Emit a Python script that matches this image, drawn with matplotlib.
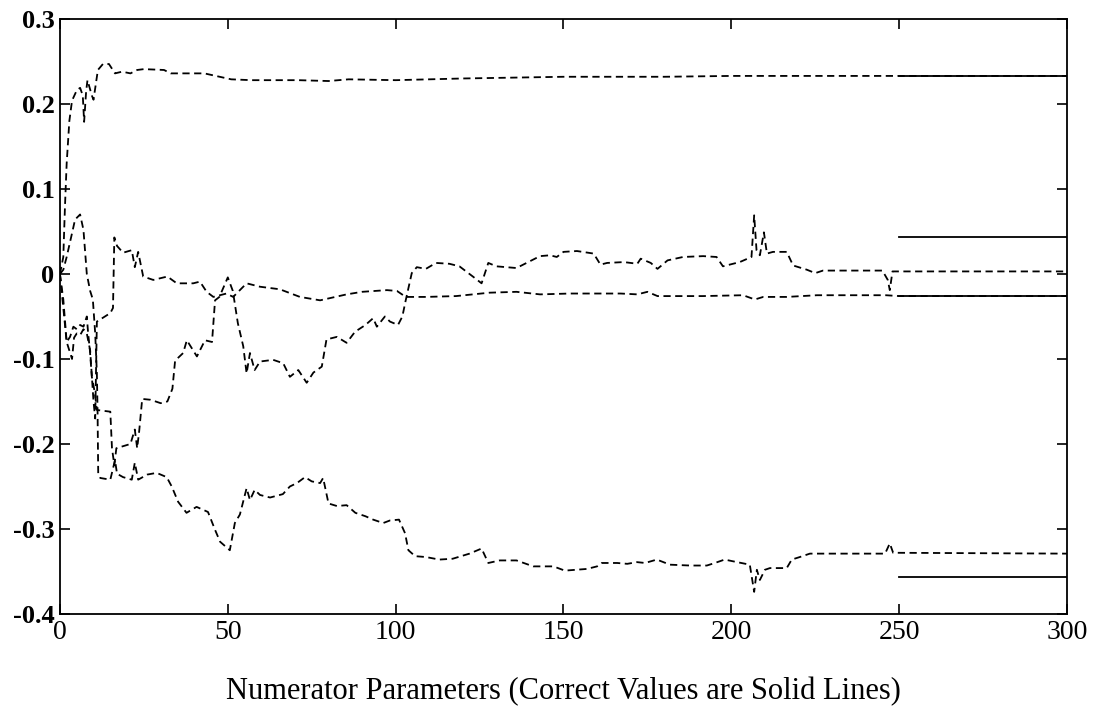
import numpy as np
import matplotlib
matplotlib.use("Agg")
import matplotlib.pyplot as plt

plt.rcParams['font.family'] = ['Liberation Serif', 'DejaVu Serif']

# estimated numerator parameters vs. iteration, (iteration, value) pairs
est_a = [(0, 0), (1, 0.02), (1.5, 0.08), (2, 0.13), (2.8, 0.18), (3.6, 0.204), (5, 0.216),
         (6, 0.219), (6.8, 0.21), (7.2, 0.179), (7.8, 0.215), (8.2, 0.228), (9.5, 0.21),
         (10, 0.205), (11.3, 0.24), (12.8, 0.247), (14.6, 0.247), (16.4, 0.236), (18.5, 0.238),
         (21, 0.236), (23, 0.24), (25, 0.241), (31, 0.24), (33, 0.236), (43, 0.236), (51, 0.229),
         (57, 0.228), (71, 0.228), (80, 0.227), (86, 0.229), (100, 0.228), (120, 0.23),
         (150, 0.232), (180, 0.232), (200, 0.233), (250, 0.233), (300, 0.233)]

est_b = [(0, 0), (1, -0.04), (2, -0.08), (3.6, -0.1), (4.2, -0.075), (5, -0.07), (6, -0.072),
         (7, -0.065), (8, -0.07), (9, -0.09), (10, -0.15), (10.5, -0.17), (11, -0.056),
         (15, -0.046), (15.8, -0.04), (16.2, 0.043), (17, 0.033), (18.8, 0.025), (21.4, 0.028),
         (22.3, 0.008), (23.3, 0.026), (24.8, -0.003), (27.8, -0.007), (32, -0.003),
         (34.8, -0.011), (39.7, -0.011), (41.7, -0.009), (43.7, -0.021), (45.7, -0.027),
         (49.6, -0.023), (51.6, -0.027), (55.6, -0.011), (59.6, -0.015), (65.5, -0.018),
         (71.5, -0.027), (77.5, -0.031), (85.4, -0.024), (90, -0.021), (97.4, -0.019),
         (100.4, -0.02), (103, -0.027), (109, -0.027), (118, -0.026), (128, -0.022),
         (136, -0.021), (143, -0.024), (152, -0.023), (167, -0.023), (172, -0.024),
         (175, -0.021), (178, -0.026), (191.5, -0.026), (203.5, -0.025), (207, -0.03),
         (209.5, -0.027), (216.5, -0.027), (225.5, -0.025), (246, -0.025), (250, -0.026),
         (300, -0.026)]

est_c = [(0, 0), (1, -0.03), (2, -0.08), (3, -0.074), (4, -0.062), (5, -0.065), (6, -0.06),
         (7, -0.062), (8, -0.05), (8.4, -0.07), (8.9, -0.089), (9.5, -0.121), (10.4, -0.14),
         (11, -0.16), (15, -0.162), (15.5, -0.205), (16.2, -0.225), (16.8, -0.205), (21, -0.2),
         (22.3, -0.183), (23, -0.205), (23.6, -0.185), (24.5, -0.147), (27, -0.148),
         (30, -0.152), (32, -0.15), (33.5, -0.135), (34.3, -0.102), (36.7, -0.093),
         (37.8, -0.078), (40.8, -0.097), (43.2, -0.078), (45.3, -0.08), (46.2, -0.031),
         (47.5, -0.027), (50, -0.004), (51.5, -0.02), (53, -0.058), (54.6, -0.085),
         (55.6, -0.117), (56.6, -0.093), (58, -0.113), (59.6, -0.103), (63.5, -0.101),
         (66.5, -0.105), (68.5, -0.121), (71, -0.113), (73.5, -0.128), (75.5, -0.116),
         (78, -0.109), (79.4, -0.077), (82.5, -0.074), (85.4, -0.081), (87.9, -0.068),
         (91, -0.06), (93.3, -0.052), (94.4, -0.062), (96.8, -0.05), (98.3, -0.056),
         (100.7, -0.06), (102, -0.05), (103, -0.031), (104.8, 0.001), (106.3, 0.008),
         (109, 0.006), (112, 0.013), (116, 0.012), (119, 0.009), (123, -0.003), (125.6, -0.011),
         (127.6, 0.013), (130, 0.009), (136, 0.007), (139, 0.013), (143, 0.021), (146, 0.022),
         (148, 0.02), (150, 0.026), (154, 0.027), (159, 0.024), (161, 0.011), (163, 0.013),
         (168, 0.014), (172, 0.012), (173, 0.018), (176, 0.013), (178, 0.006), (181, 0.016),
         (185.6, 0.02), (191.6, 0.021), (195.6, 0.02), (197.5, 0.009), (202.5, 0.014),
         (206, 0.02), (206.8, 0.069), (207.5, 0.028), (208.5, 0.022), (209.7, 0.049),
         (210.6, 0.024), (212.4, 0.026), (216.5, 0.026), (218.4, 0.01), (222.5, 0.005),
         (225, 0.001), (227.3, 0.004), (245, 0.004), (246.6, -0.007), (247.2, -0.019),
         (248, 0.003), (300, 0.003)]

est_d = [(0, 0), (1, 0.005), (2, 0.02), (3.6, 0.048), (4.5, 0.064), (6, 0.07), (7, 0.052),
         (8, 0), (9, -0.02), (9.8, -0.03), (10.5, -0.07), (11, -0.117), (11.2, -0.16),
         (11.4, -0.235), (12, -0.24), (15, -0.242), (16.4, -0.219), (17, -0.235),
         (18.8, -0.239), (21.4, -0.242), (22.3, -0.222), (23.3, -0.242), (26, -0.236),
         (28.8, -0.234), (31.8, -0.239), (33.3, -0.25), (35.2, -0.268), (37.7, -0.281),
         (40.7, -0.274), (44.1, -0.28), (46.2, -0.301), (47.7, -0.315), (50.6, -0.325),
         (52.1, -0.293), (53.6, -0.283), (55.6, -0.252), (56.6, -0.266), (58, -0.254),
         (59.6, -0.26), (62.6, -0.263), (66.4, -0.259), (68.5, -0.25), (70.6, -0.246),
         (73, -0.239), (75, -0.244), (77.5, -0.246), (78.4, -0.24), (80, -0.27), (82.5, -0.273),
         (85.4, -0.272), (88, -0.281), (91, -0.285), (93.3, -0.289), (96.3, -0.293),
         (98.3, -0.29), (101, -0.289), (102.8, -0.305), (103.8, -0.325), (105.8, -0.332),
         (109, -0.333), (113, -0.336), (117, -0.335), (122, -0.329), (125.6, -0.323),
         (127.6, -0.34), (131, -0.337), (136, -0.337), (141, -0.344), (147, -0.344),
         (150.4, -0.349), (157, -0.347), (160, -0.344), (161.4, -0.34), (166, -0.34),
         (169, -0.341), (171.9, -0.339), (174.3, -0.34), (177.8, -0.336), (181.7, -0.342),
         (187.7, -0.343), (192.7, -0.343), (195.1, -0.34), (198, -0.336), (201.7, -0.339),
         (205.5, -0.342), (206.8, -0.374), (207.6, -0.348), (208.5, -0.36), (210, -0.348),
         (211.5, -0.346), (216.5, -0.346), (218, -0.336), (220.4, -0.333), (223.4, -0.329),
         (245.8, -0.329), (247.2, -0.317), (248.2, -0.328), (300, -0.329)]

# correct parameter values, drawn over the last 50 iterations
true_vals = [0.233, 0.044, -0.026, -0.357]
true_span = [250, 300]

xticks = [0, 50, 100, 150, 200, 250, 300]
yticks = [-0.4, -0.3, -0.2, -0.1, 0, 0.1, 0.2, 0.3]
ytick_labels = ['-0.4', '-0.3', '-0.2', '-0.1', '0', '0.1', '0.2', '0.3']

fig = plt.figure(figsize=(10.98, 7.08), dpi=100)
ax = fig.add_axes([0.0546, 0.1328, 0.9172, 0.8404])

for est in (est_a, est_b, est_c, est_d):
    xs, ys = np.array(est).T
    ax.plot(xs, ys, color='black', lw=1.3, dashes=(4, 2.5))

for v in true_vals:
    ax.plot(true_span, [v, v], color='black', lw=1.3)

ax.set_xlim(0, 300)
ax.set_ylim(-0.4, 0.3)
ax.set_xticks(xticks)
ax.set_xticklabels([str(t) for t in xticks], fontsize=20)
ax.set_yticks(yticks)
ax.set_yticklabels(ytick_labels, fontsize=19, fontweight='bold')
ax.tick_params(direction='in', length=7, width=1.2, top=True, right=True, pad=4)
for s in ax.spines.values():
    s.set_linewidth(1.3)

ax.set_xlabel('Numerator Parameters (Correct Values are Solid Lines)', fontsize=22, labelpad=23)

fig.savefig('out.png', dpi=100)
